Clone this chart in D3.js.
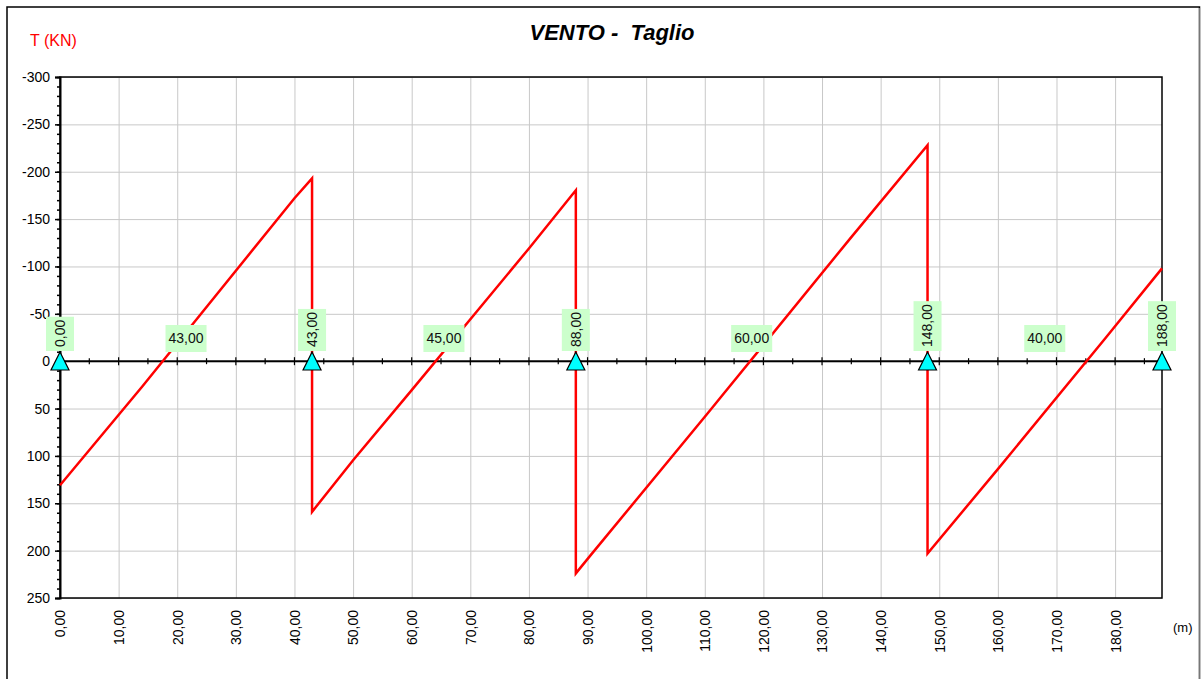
<!DOCTYPE html>
<html>
<head>
<meta charset="utf-8">
<script src="https://cdn.jsdelivr.net/npm/d3@7"></script>
<style>
  html, body { margin: 0; padding: 0; background: #fff; }
  svg { display: block; font-family: "Liberation Sans", Arial, sans-serif; }
</style>
</head>
<body>
<svg id="chart" width="1201" height="679"></svg>
<script>
// Shear diagram along the beam: abscissa (m) and shear T (kN)
const shearX = [0, 14, 40, 43, 43, 50, 60, 80, 88, 88, 90.5, 110.5, 113, 135, 148, 148, 160, 178.3, 188];
const shearT = [131, 27, -172, -193, 159, 104.5, 30.6, -119, -180.5, 224, 205, 55, 36, -131, -228, 203, 114, -24, -98];

// Supports and span lengths
const supportX = [0, 43, 88, 148, 188];
const spanLengths = [43, 45, 60, 40];

// Axis ticks
const xTicks = [0, 10, 20, 30, 40, 50, 60, 70, 80, 90, 100, 110, 120, 130, 140, 150, 160, 170, 180];
const yTicks = [-300, -250, -200, -150, -100, -50, 0, 50, 100, 150, 200, 250];
const yMinorTicks = d3.range(-300, 251, 10);
const beamTicks = d3.range(0, 188, 5);

const fmt = v => v.toFixed(2).replace(".", ",");

const svg = d3.select("#chart");
const W = 1201, H = 679;
const plotL = 60, plotR = 1162, plotT = 77, plotB = 598;

const x = d3.scaleLinear().domain([0, 188]).range([plotL, plotR]);
const y = d3.scaleLinear().domain([-300, 250]).range([plotT, plotB]);

// Outer frame
svg.append("rect").attr("x", 7).attr("y", 7).attr("width", 1192.5).attr("height", 700)
  .attr("fill", "none").attr("stroke", "#000").attr("stroke-width", 1.5);
svg.append("line").attr("x1", 1199.5).attr("x2", 1199.5).attr("y1", 8).attr("y2", H)
  .attr("stroke", "#777").attr("stroke-width", 1);

// Grid
const gridX = svg.append("g").attr("transform", `translate(0,${plotB})`)
  .call(d3.axisBottom(x).tickValues(xTicks).tickSize(-(plotB - plotT)).tickFormat(""));
gridX.select(".domain").remove();
gridX.selectAll("line").attr("stroke", "#c8c8c8").attr("stroke-width", 1);

const gridY = svg.append("g").attr("transform", `translate(${plotL},0)`)
  .call(d3.axisLeft(y).tickValues(yTicks).tickSize(-(plotR - plotL)).tickFormat(""));
gridY.select(".domain").remove();
gridY.selectAll("line").attr("stroke", "#c8c8c8").attr("stroke-width", 1);

// Plot frame
svg.append("rect").attr("x", plotL).attr("y", plotT).attr("width", plotR - plotL).attr("height", plotB - plotT)
  .attr("fill", "none").attr("stroke", "#000").attr("stroke-width", 1.5);

// Y axis (major + minor ticks)
const yMinor = svg.append("g").attr("transform", `translate(${plotL},0)`)
  .call(d3.axisLeft(y).tickValues(yMinorTicks).tickSize(3).tickFormat(""));
yMinor.select(".domain").remove();
yMinor.selectAll("line").attr("stroke", "#000").attr("stroke-width", 1.5);

const yAxis = svg.append("g").attr("transform", `translate(${plotL},0)`)
  .call(d3.axisLeft(y).tickValues(yTicks).tickSize(5).tickPadding(5).tickFormat(d => d));
yAxis.select(".domain").attr("stroke", "#000").attr("stroke-width", 2);
yAxis.selectAll("line").attr("stroke", "#000").attr("stroke-width", 1.5);
yAxis.selectAll("text").attr("font-size", 14).attr("fill", "#000")
  .attr("font-family", "'Liberation Sans', Arial, sans-serif");

// X axis labels (rotated)
const xAxis = svg.append("g").attr("transform", `translate(0,${plotB})`)
  .call(d3.axisBottom(x).tickValues(xTicks).tickSize(0).tickFormat(fmt));
xAxis.select(".domain").remove();
xAxis.selectAll("text")
  .attr("font-size", 14).attr("fill", "#000")
  .attr("font-family", "'Liberation Sans', Arial, sans-serif")
  .attr("transform", "rotate(-90)")
  .attr("x", -12).attr("y", 0).attr("dy", "0.35em")
  .style("text-anchor", "end");

// Beam line at T = 0 with ticks
const y0 = y(0);
svg.append("line").attr("x1", plotL).attr("x2", plotR).attr("y1", y0).attr("y2", y0)
  .attr("stroke", "#000").attr("stroke-width", 2);
svg.append("g").selectAll("line").data(beamTicks).join("line")
  .attr("x1", d => x(d)).attr("x2", d => x(d))
  .attr("y1", d => y0 - (d % 10 === 0 ? 4 : 3)).attr("y2", d => y0 + (d % 10 === 0 ? 4 : 3))
  .attr("stroke", "#000").attr("stroke-width", 1.2);

// Shear diagram
const pts = shearX.map((v, i) => [v, shearT[i]]);
svg.append("path").datum(pts)
  .attr("d", d3.line().x(d => x(d[0])).y(d => y(d[1])))
  .attr("fill", "none").attr("stroke", "#ff0000").attr("stroke-width", 2.5)
  .attr("stroke-linejoin", "miter");

// Span length labels
const spanG = svg.append("g");
spanLengths.forEach((len, i) => {
  const cx = x((supportX[i] + supportX[i + 1]) / 2);
  const g = spanG.append("g");
  const rect = g.append("rect").attr("fill", "#ccffcc");
  const t = g.append("text").attr("x", cx).attr("y", 342.5)
    .attr("text-anchor", "middle").attr("font-size", 14).attr("fill", "#111")
    .text(fmt(len));
  const w = t.node().getComputedTextLength() + 6;
  rect.attr("x", cx - w / 2).attr("y", 325).attr("width", w).attr("height", 27);
});

// Support abscissa labels (vertical) and support symbols
const supG = svg.append("g");
supportX.forEach(sx => {
  const cx = x(sx);
  const g = supG.append("g");
  const rect = g.append("rect").attr("fill", "#ccffcc");
  const t = g.append("text")
    .attr("transform", `translate(${cx},347) rotate(-90)`)
    .attr("x", 0).attr("y", 0).attr("dy", "0.35em")
    .attr("text-anchor", "start").attr("font-size", 14).attr("fill", "#111")
    .text(fmt(sx));
  const len = t.node().getComputedTextLength() + 7;
  rect.attr("x", cx - 14).attr("y", 351 - len).attr("width", 28).attr("height", len);
  supG.append("path")
    .attr("d", `M${cx},352 L${cx - 9},370 L${cx + 9},370 Z`)
    .attr("fill", "#00ffff").attr("stroke", "#000").attr("stroke-width", 1.2);
});

// Titles
svg.append("text").attr("x", 612).attr("y", 40).attr("text-anchor", "middle")
  .attr("font-size", 22).attr("font-weight", "bold").attr("font-style", "italic")
  .style("white-space", "pre").attr("fill", "#000")
  .text("VENTO -  Taglio");
svg.append("text").attr("x", 30).attr("y", 46).attr("font-size", 16).attr("fill", "#ff0000")
  .text("T (KN)");
svg.append("text").attr("x", 1173).attr("y", 632).attr("font-size", 13).attr("fill", "#000")
  .text("(m)");
</script>
</body>
</html>
